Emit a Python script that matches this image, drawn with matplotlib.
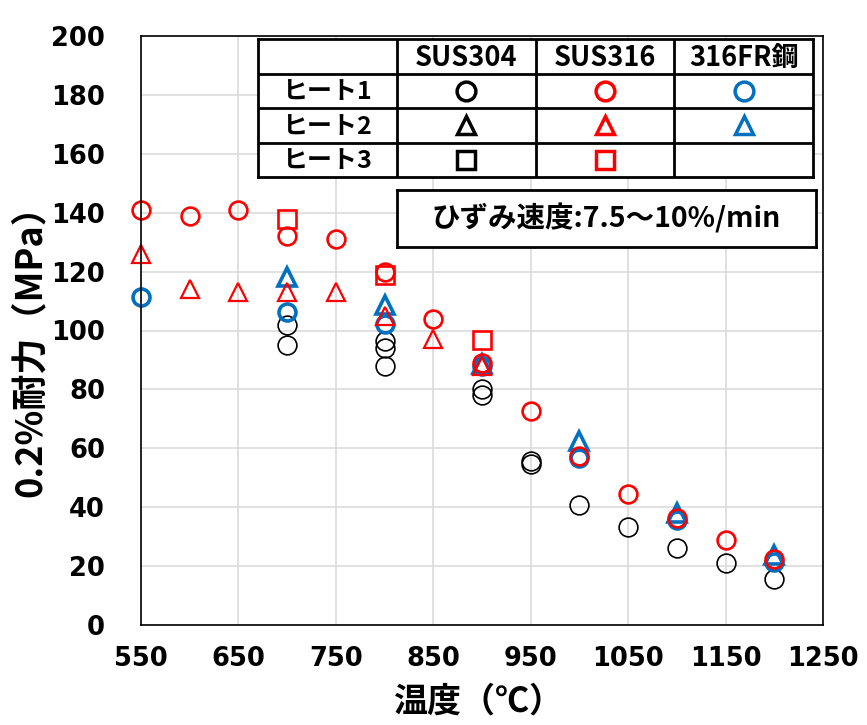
import numpy as np
import matplotlib
matplotlib.use('Agg')
import matplotlib.pyplot as plt

jp = ['Noto Sans CJK JP', 'DejaVu Sans']

# SUS304 (黒)
t_304 = [700, 700, 800, 800, 800, 900, 900, 950, 950, 1000, 1050, 1100, 1150, 1200]
s_304 = [101.7, 95.1, 96.6, 94.1, 87.8, 80.2, 78.0, 55.7, 54.8, 40.7, 33.3, 26.2, 20.9, 15.6]

# SUS316 (赤)
t_316_h1 = [550, 600, 650, 700, 750, 800, 850, 900, 950, 1000, 1050, 1100, 1150, 1200]
s_316_h1 = [141, 139, 141, 132, 131, 120, 104, 89, 72.5, 57.3, 44.6, 36.2, 28.8, 22.4]
t_316_h2 = [550, 600, 650, 700, 750, 800, 850, 900]
s_316_h2 = [126, 114, 113, 113, 113, 105, 97, 88]
t_316_h3 = [700, 800, 900]
s_316_h3 = [138, 119, 96.8]

# 316FR鋼 (青)
t_fr_h1 = [550, 700, 800, 900, 1000, 1100, 1200]
s_fr_h1 = [111.3, 106.2, 102.3, 87.8, 56.8, 35.6, 21.3]
t_fr_h2 = [700, 800, 900, 1000, 1100, 1200]
s_fr_h2 = [118.2, 108.8, 88.5, 62.5, 38.0, 23.7]

materials = ['SUS304', 'SUS316', '316FR鋼']
heats = ['ヒート1', 'ヒート2', 'ヒート3']
x_ticks = np.arange(550, 1251, 100)
y_ticks = np.arange(0, 201, 20)

RED = '#FF0000'
BLUE = '#0070C0'
BLACK = '#000000'

W, H = 867, 725
fig = plt.figure(figsize=(W / 100, H / 100), dpi=100)


def fx(px):
    return px / W


def fy(py):
    return 1 - py / H


ax = fig.add_axes([fx(141), fy(625), fx(823) - fx(141), fy(36) - fy(625)])

style = dict(ls='none', mfc='none', clip_on=False)
ax.plot(t_304, s_304, marker='o', ms=13.5, mec=BLACK, mew=1.2, **style)
ax.plot(t_fr_h1, s_fr_h1, marker='o', ms=12.2, mec=BLUE, mew=2.6, **style)
ax.plot(t_fr_h2, s_fr_h2, marker='^', ms=12.5, mec=BLUE, mew=2.6, **style)
ax.plot(t_316_h1, s_316_h1, marker='o', ms=12.8, mec=RED, mew=1.9, **style)
ax.plot(t_316_h2, s_316_h2, marker='^', ms=12.5, mec=RED, mew=1.6, **style)
ax.plot(t_316_h3, s_316_h3, marker='s', ms=13.5, mec=RED, mew=1.9, **style)

ax.set_xlim(550, 1250)
ax.set_ylim(0, 200)
ax.set_xticks(x_ticks)
ax.set_yticks(y_ticks)
ax.grid(True, color='#d9d9d9', lw=1.1)
ax.set_axisbelow(True)
for sp in ax.spines.values():
    sp.set_color('black')
    sp.set_linewidth(1.2)
ax.tick_params(length=0)
ax.tick_params(axis='y', pad=26)
ax.tick_params(axis='x', pad=15)
for lab in ax.get_xticklabels() + ax.get_yticklabels():
    lab.set_fontfamily('DejaVu Sans')
    lab.set_fontweight('bold')
    lab.set_fontsize(18.5)

fig.text(fx(30), fy(342), '0.2%耐力（MPa）', rotation=90, ha='center', va='center',
         family=jp, fontweight='bold', fontsize=26)
fig.text(fx(478), fy(701), '温度（℃）', ha='center', va='center',
         family=jp, fontweight='bold', fontsize=24.5)

# 凡例の表
tab = fig.add_axes([fx(258), fy(177), fx(813) - fx(258), fy(39) - fy(177)])
tab.set_xlim(0, 4)
tab.set_ylim(4, 0)
tab.set_xticks([])
tab.set_yticks([])
tab.set_facecolor('white')
for sp in tab.spines.values():
    sp.set_linewidth(2)
for i in range(1, 4):
    tab.axvline(i, color='black', lw=2)
    tab.axhline(i, color='black', lw=2)
for j, m in enumerate(materials):
    tab.text(j + 1.5, 0.55, m, ha='center', va='center', family=jp,
             fontweight='bold', fontsize=19.5)
for i, h in enumerate(heats):
    tab.text(0.5, i + 1.55, h, ha='center', va='center', family=jp,
             fontweight='bold', fontsize=18)

colors = [BLACK, RED, BLUE]
markers = ['o', '^', 's']
for j, c in enumerate(colors):
    for i, mk in enumerate(markers):
        if j == 2 and mk == 's':
            continue
        tab.plot(j + 1.5, i + 1.5, marker=mk, ms=13.5, mfc='none', mec=c, mew=2.5)

# ひずみ速度の注記
note = fig.add_axes([fx(397), fy(247), fx(816) - fx(397), fy(190) - fy(247)])
note.set_xticks([])
note.set_yticks([])
note.set_facecolor('white')
for sp in note.spines.values():
    sp.set_linewidth(2)
note.text(0.5, 0.5, 'ひずみ速度:7.5～10%/min', ha='center', va='center',
          family=jp, fontweight='bold', fontsize=20.5, transform=note.transAxes)

fig.savefig('out.png', dpi=100)
